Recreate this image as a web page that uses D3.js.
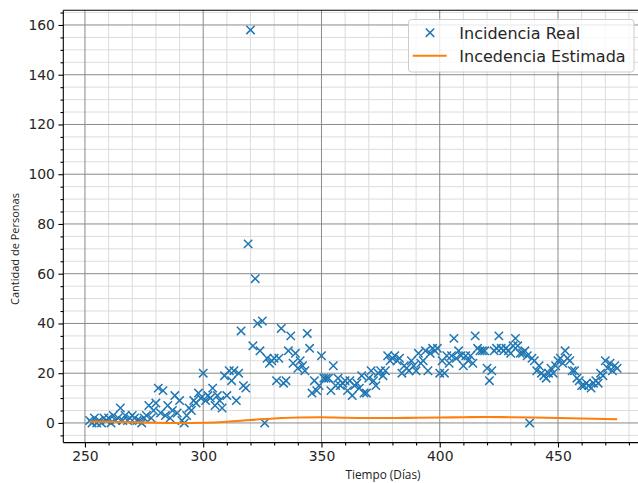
<!DOCTYPE html>
<html><head><meta charset="utf-8">
<script src="https://cdn.jsdelivr.net/npm/d3@7"></script>
<style>body{margin:0;background:#fff}svg{display:block}</style>
</head><body>
<svg id="c" width="638" height="483"></svg>
<script>
const startDay = 252;
const realValues = [
1,0,2,0,1,0,2,1,2,0,3,1,2,6,1,3,1,2,3,2,1,1,0,2,3,7,2,5,8,14,
4,13,3,7,2,5,11,4,9,1,0,3,6,5,9,8,12,10,20,9,11,10,14,7,11,9,6,19,11,21,
17,21,9,20,37,15,14,72,158,31,58,40,29,41,0,26,24,25,26,17,26,38,16,17,29,35,24,28,22,25,
23,21,36,30,12,17,13,15,27,18,18,18,13,23,15,18,15,16,17,13,17,11,15,16,14,19,12,12,18,21,
17,15,20,21,19,21,27,25,26,27,25,26,20,23,22,21,25,23,21,28,24,25,29,21,28,30,29,30,20,25,
20,27,24,27,34,26,29,27,23,27,25,27,24,35,30,29,29,29,22,17,21,29,30,35,30,29,30,29,28,31,
34,31,28,28,29,27,0,26,25,21,23,20,19,18,20,22,20,23,25,26,24,29,26,25,21,21,18,17,15,15,
16,15,14,16,17,16,20,19,25,22,24,21,23,22
];
const realDays = realValues.map((v,i)=>startDay+i);
const estDays = [252,260,270,280,290,300,310,320,330,340,350,360,370,380,390,400,410,420,430,440,450,460,470,475];
const estValues = [0.6,0.5,0.3,0.1,0.0,0.1,0.5,1.2,1.8,2.2,2.3,2.1,2.0,2.0,2.1,2.2,2.3,2.4,2.3,2.2,2.0,1.8,1.6,1.5];
const xTicks = [250,300,350,400,450];
const yTicks = [0,20,40,60,80,100,120,140,160];
const legendLabels = ["Incidencia Real","Incedencia Estimada"];
const xLabel = "Tiempo (Días)";
const yLabel = "Cantidad de Personas";

const L=63.3, R=643.5, T=10.3, B=442.6;
const x = d3.scaleLinear().domain([240.85,486.15]).range([L,R]);
const y = d3.scaleLinear().domain([-7.9,165.9]).range([B,T]);
const svg = d3.select("#c");
const font = "DejaVu Sans";

svg.append("defs").append("clipPath").attr("id","pc").append("rect")
  .attr("x",L).attr("y",T).attr("width",R-L).attr("height",B-T);
const g = svg.append("g");
const xMinor = d3.range(250,490,10).filter(v=>!xTicks.includes(v));
const yMinor = d3.range(-5,166,5).filter(v=>!yTicks.includes(v));
g.selectAll(".xm").data(xMinor).join("line").attr("x1",d=>x(d)).attr("x2",d=>x(d)).attr("y1",T).attr("y2",B)
  .attr("stroke","#dcdcdc").attr("stroke-width",1);
g.selectAll(".ym").data(yMinor).join("line").attr("y1",d=>y(d)).attr("y2",d=>y(d)).attr("x1",L).attr("x2",R)
  .attr("stroke","#dcdcdc").attr("stroke-width",1);
g.selectAll(".xM").data(xTicks).join("line").attr("x1",d=>x(d)).attr("x2",d=>x(d)).attr("y1",T).attr("y2",B)
  .attr("stroke","#8a8a8a").attr("stroke-width",1);
g.selectAll(".yM").data(yTicks).join("line").attr("y1",d=>y(d)).attr("y2",d=>y(d)).attr("x1",L).attr("x2",R)
  .attr("stroke","#8a8a8a").attr("stroke-width",1);

const pg = svg.append("g").attr("clip-path","url(#pc)");
const s = 4.2;
pg.selectAll(".pt").data(realDays.map((d,i)=>[d,realValues[i]])).join("path")
  .attr("d",d=>{const cx=x(d[0]),cy=y(d[1]);return `M${cx-s},${cy-s}L${cx+s},${cy+s}M${cx-s},${cy+s}L${cx+s},${cy-s}`;})
  .attr("stroke","#1f77b4").attr("stroke-width",1.5).attr("fill","none");
pg.append("path").datum(estDays.map((d,i)=>[d,estValues[i]]))
  .attr("d",d3.line().x(d=>x(d[0])).y(d=>y(d[1])).curve(d3.curveMonotoneX))
  .attr("stroke","#ff7f0e").attr("stroke-width",2.1).attr("fill","none");

const xa = svg.append("g").attr("transform",`translate(0,${B})`)
  .call(d3.axisBottom(x).tickValues(xTicks).tickSize(4.9).tickPadding(3.5).tickFormat(d3.format("d")));
const xam = svg.append("g").attr("transform",`translate(0,${B})`)
  .call(d3.axisBottom(x).tickValues(xMinor).tickSize(2.8).tickFormat(""));
const ya = svg.append("g").attr("transform",`translate(${L},0)`)
  .call(d3.axisLeft(y).tickValues(yTicks).tickSize(4.9).tickPadding(3.5).tickFormat(d3.format("d")));
const yam = svg.append("g").attr("transform",`translate(${L},0)`)
  .call(d3.axisLeft(y).tickValues(yMinor).tickSize(2.8).tickFormat(""));
[xa,xam,ya,yam].forEach(a=>{a.select(".domain").remove();a.selectAll("line").attr("stroke","#000").attr("stroke-width",1.1);
  a.selectAll("text").attr("font-family",font).attr("font-size",13.9).attr("fill","#262626");});
svg.append("line").attr("x1",L).attr("x2",L).attr("y1",T).attr("y2",B).attr("stroke","#000").attr("stroke-width",1.1);
svg.append("line").attr("x1",L).attr("x2",R).attr("y1",B).attr("y2",B).attr("stroke","#000").attr("stroke-width",1.1);
svg.append("line").attr("x1",L).attr("x2",R).attr("y1",T).attr("y2",T).attr("stroke","#000").attr("stroke-width",1.1);

svg.append("text").attr("x",383).attr("y",479).attr("text-anchor","middle").attr("font-family","Open Sans")
  .attr("font-size",11.8).attr("fill","#222").text(xLabel);
svg.append("text").attr("transform","translate(19,249) rotate(-90)").attr("text-anchor","middle").attr("font-family","Open Sans")
  .attr("font-size",11).attr("fill","#222").text(yLabel);

const lg = svg.append("g");
lg.append("rect").attr("x",408.5).attr("y",19.5).attr("width",225.5).attr("height",52.5).attr("rx",3)
  .attr("fill","#fff").attr("fill-opacity",0.8).attr("stroke","#cccccc").attr("stroke-width",1);
const mx=430, my=32.7;
lg.append("path").attr("d",`M${mx-s},${my-s}L${mx+s},${my+s}M${mx-s},${my+s}L${mx+s},${my-s}`)
  .attr("stroke","#1f77b4").attr("stroke-width",1.5);
lg.append("line").attr("x1",412.7).attr("x2",446.7).attr("y1",55.7).attr("y2",55.7).attr("stroke","#ff7f0e").attr("stroke-width",2.1);
lg.selectAll(".lt").data(legendLabels).join("text").attr("x",459.3).attr("y",(d,i)=>38.6+i*23)
  .attr("font-family",font).attr("font-size",16).attr("fill","#262626").text(d=>d);
</script>
</body></html>
